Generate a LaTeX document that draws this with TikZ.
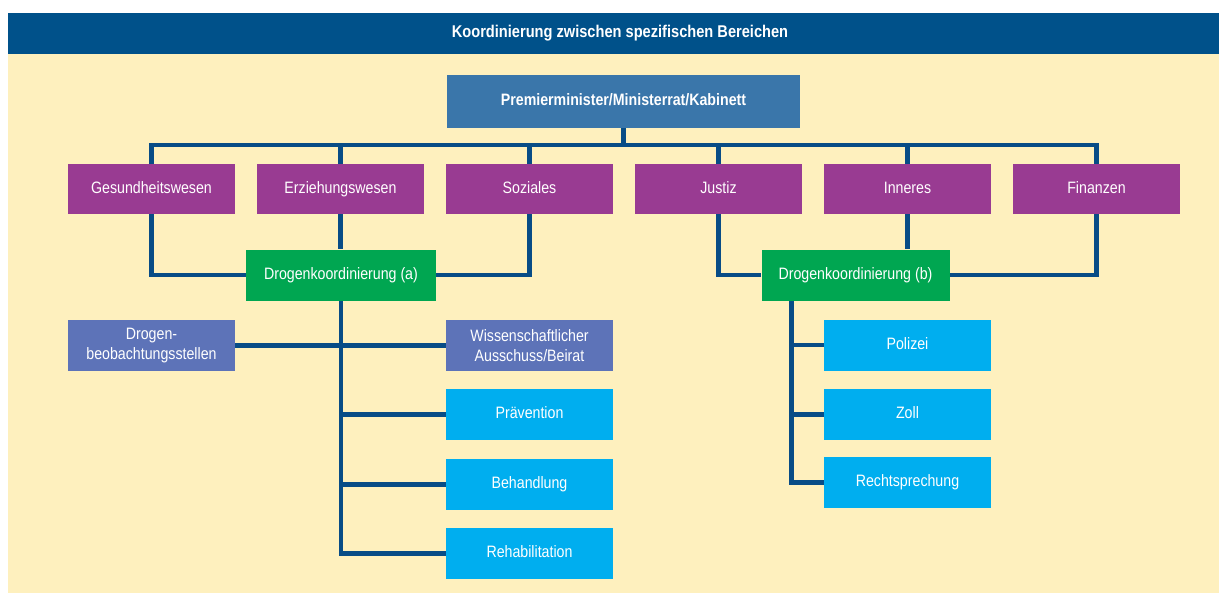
\documentclass[tikz,border=0pt]{standalone}
\usepackage{fontspec}
\setmainfont{Liberation Sans}[FakeStretch=0.86]
\usetikzlibrary{calc}
\pgfdeclarelayer{bglayer}
\pgfsetlayers{bglayer,main}
\definecolor{hdrblue}{RGB}{0,81,138}
\definecolor{linblue}{RGB}{8,76,134}
\definecolor{bgyellow}{RGB}{254,240,190}
\definecolor{topblue}{RGB}{58,118,170}
\definecolor{minpurple}{RGB}{153,59,146}
\definecolor{coordgreen}{RGB}{0,166,81}
\definecolor{slateblue}{RGB}{93,115,184}
\definecolor{cyanbox}{RGB}{0,174,239}
\tikzset{
  box/.style={inner sep=2pt, minimum width=167pt, minimum height=51pt, text=white, align=center,
    font=\fontsize{16.5}{20.5}\selectfont},
  single/.style={text height=12pt, text depth=3.5pt},
  topbox/.style={box, single, fill=topblue, minimum width=353pt, minimum height=53pt, font=\fontsize{16.5}{20}\selectfont\bfseries},
  ministry/.style={box, single, fill=minpurple, minimum height=50pt},
  coordbox/.style={box, single, fill=coordgreen, minimum width=190pt},
  infobox/.style={box, fill=slateblue},
  servbox/.style={box, single, fill=cyanbox},
  conn/.style={draw=linblue, line width=4.8pt}
}
\begin{document}
\begin{tikzpicture}[x=1pt, y=-1pt]
\useasboundingbox (0,0) rectangle (1219,603);
\begin{pgfonlayer}{bglayer}
\fill[white] (0,0) rectangle (1219,603);
\fill[bgyellow] (8,54) rectangle (1219,593);
\fill[hdrblue] (8,13) rectangle (1219,54);
\end{pgfonlayer}
\node[text=white, font=\fontsize{17}{20}\selectfont\bfseries] (title) at (620,33) {Koordinierung zwischen spezifischen Bereichen};

% nodes
\node[topbox] (top) at (623.5,101.5) {Premierminister/Ministerrat/Kabinett};
\node[ministry] (ges) at (151.5,189) {Gesundheitswesen};
\node[ministry] (erz) at (340.5,189) {Erziehungswesen};
\node[ministry] (soz) at (529.5,189) {Soziales};
\node[ministry] (jus) at (718.5,189) {Justiz};
\node[ministry] (inn) at (907.5,189) {Inneres};
\node[ministry] (fin) at (1096.5,189) {Finanzen};
\node[coordbox] (gra) at (341,275) {Drogenkoordinierung (a)};
\node[coordbox, minimum width=188pt] (grb) at (855.5,275) {Drogenkoordinierung (b)};
\node[infobox] (beo) at (151.5,345.5) {Drogen-\\beobachtungsstellen};
\node[infobox] (wis) at (529.5,345.5) {Wissenschaftlicher\\Ausschuss/Beirat};
\node[servbox] (pra) at (529.5,414.5) {Prävention};
\node[servbox] (beh) at (529.5,484.5) {Behandlung};
\node[servbox] (reh) at (529.5,553.5) {Rehabilitation};
\node[servbox] (pol) at (907.5,345) {Polizei};
\node[servbox] (zol) at (907.5,414.5) {Zoll};
\node[servbox] (rec) at (907.5,482.5) {Rechtsprechung};

\coordinate (bus) at (623.5,145);
\coordinate (sb) at ($(grb.south west)!0.16!(grb.south east)$);

% connectors (behind boxes)
\begin{pgfonlayer}{bglayer}
\foreach \m in {ges,erz,soz,jus,inn,fin}
  \draw[conn] (top.south) -- (bus) -| (\m.north);
\draw[conn] (ges.south) |- (gra.west);
\draw[conn] (erz.south) -- (erz.south |- gra.north);
\draw[conn] (soz.south) |- (gra.east);
\draw[conn] (jus.south) |- (grb.west);
\draw[conn] (inn.south) -- (inn.south |- grb.north);
\draw[conn] (fin.south) |- (grb.east);
\draw[conn] (beo.east) -- (wis.west);
\foreach \s in {pra,beh,reh}
  \draw[conn] (gra.south) |- (\s.west);
\foreach \s in {pol,zol,rec}
  \draw[conn] (sb) |- (\s.west);
\end{pgfonlayer}
\end{tikzpicture}
\end{document}
